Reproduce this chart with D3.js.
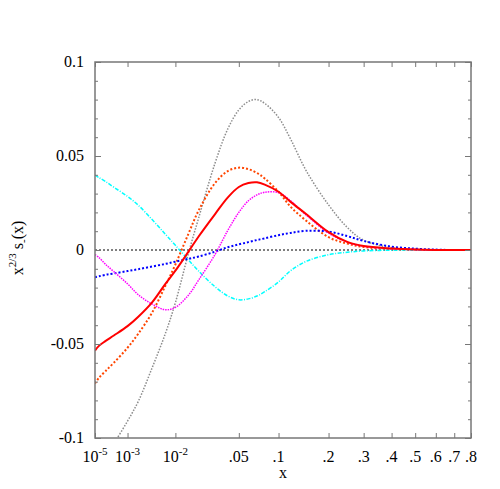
<!DOCTYPE html>
<html lang="en">
<head>
  <meta charset="UTF-8">
  <title>x^(2/3) s_-(x)</title>
  <style>
    body { margin: 0; background: #fff; }
    text { font-family: "Liberation Serif", "DejaVu Serif", serif; font-size: 16px; fill: #000; }
  </style>
</head>
<body>
  <svg id="chart" width="500" height="489"></svg>
<script src="https://cdn.jsdelivr.net/npm/d3@7"></script>
<script>
  // sample points along x
  const xs      = [1e-5, 3e-5, 1e-4, 3e-4, 1e-3, 2e-3, 4e-3, 7e-3, 0.01, 0.015, 0.02, 0.03, 0.04, 0.05, 0.06, 0.07, 0.08, 0.1, 0.12, 0.15, 0.2, 0.25, 0.3, 0.4, 0.5, 0.6, 0.7, 0.8]
  const red     = [-0.0535, -0.051, -0.0485, -0.0455, -0.0405, -0.0355, -0.028, -0.018, -0.011, -0.001, 0.0072, 0.019, 0.028, 0.0335, 0.0356, 0.036, 0.0348, 0.031, 0.0256, 0.019, 0.0095, 0.0043, 0.0021, 0.0008, 0.0002, 0, 0, 0]
  const orange  = [-0.071, -0.068, -0.0645, -0.06, -0.052, -0.0445, -0.0335, -0.019, -0.0077, 0.0085, 0.021, 0.0355, 0.042, 0.0438, 0.043, 0.041, 0.038, 0.031, 0.023, 0.0155, 0.0068, 0.0034, 0.0016, 0.0005, 0.0001, 0, 0, 0]
  const gray    = [-0.118, -0.115, -0.11, -0.103, -0.091, -0.0805, -0.063, -0.0444, -0.028, -0.002, 0.017, 0.046, 0.0645, 0.0745, 0.079, 0.080, 0.078, 0.0705, 0.059, 0.042, 0.024, 0.012, 0.0052, 0.0012, 0.0003, 0, 0, 0]
  const magenta = [-0.0025, -0.004, -0.0075, -0.0115, -0.018, -0.0238, -0.0287, -0.0318, -0.0305, -0.0241, -0.016, -0.0025, 0.0105, 0.020, 0.0262, 0.0293, 0.0307, 0.0305, 0.0262, 0.0185, 0.009, 0.0042, 0.002, 0.0007, 0.0002, 0, 0, 0]
  const blue    = [-0.0145, -0.014, -0.0132, -0.0125, -0.0112, -0.0102, -0.0088, -0.0074, -0.0062, -0.0047, -0.0035, -0.0009, 0.0015, 0.003, 0.0042, 0.0053, 0.0062, 0.0079, 0.0091, 0.0102, 0.0098, 0.0074, 0.0048, 0.0018, 0.0007, 0.0002, 0, 0]
  const cyan    = [0.0398, 0.0385, 0.0365, 0.0334, 0.0285, 0.0238, 0.0163, 0.0084, 0.0025, -0.0052, -0.0112, -0.0195, -0.0245, -0.0265, -0.026, -0.0245, -0.0222, -0.017, -0.011, -0.006, -0.0025, -0.0012, -0.0005, -0.0001, 0, 0, 0, 0]

  const xTicks = [1e-5, 1e-3, 1e-2, 0.05, 0.1, 0.2, 0.3, 0.4, 0.5, 0.6, 0.7, 0.8]
  const xTickLabels = [["10", "-5"], ["10", "-3"], ["10", "-2"], ".05", ".1", ".2", ".3", ".4", ".5", ".6", ".7", ".8"]
  const yTicks = [-0.1, -0.05, 0, 0.05, 0.1]
  const yTickLabels = ["-0.1", "-0.05", "0", "0.05", "0.1"]

  const plotL = 95, plotR = 471, plotT = 62, plotB = 438

  let svg = d3.select("#chart")

  let x = d3.scalePow().exponent(1 / 3).domain([1e-5, 0.8]).range([plotL, plotR])
  let y = d3.scaleLinear().domain([-0.1, 0.1]).range([plotB, plotT])

  svg.append("clipPath").attr("id", "clip")
     .append("rect")
     .attr("x", plotL).attr("y", plotT)
     .attr("width", plotR - plotL).attr("height", plotB - plotT)

  // zero line
  svg.append("line")
     .attr("x1", plotL).attr("x2", plotR)
     .attr("y1", y(0)).attr("y2", y(0))
     .attr("stroke", "#000")
     .attr("stroke-width", 1)
     .attr("stroke-dasharray", "2,2")

  let series = [
    { values: gray,    color: "#8c8c8c", width: 1.5, dash: "1.5,1.5" },
    { values: orange,  color: "#ff4500", width: 2,   dash: "2,2" },
    { values: cyan,    color: "#00ffff", width: 1.5, dash: "4,1.5,1,1.5" },
    { values: blue,    color: "#0000ff", width: 2,   dash: "2,2" },
    { values: magenta, color: "#ff00ff", width: 1.5, dash: "1.5,1" },
    { values: red,     color: "#ff0000", width: 2,   dash: null }
  ]

  let line = d3.line()
               .x(d => x(d[0]))
               .y(d => y(d[1]))
               .curve(d3.curveCatmullRom.alpha(0.5))

  svg.append("g")
     .attr("clip-path", "url(#clip)")
     .selectAll("path")
     .data(series)
     .enter()
     .append("path")
     .attr("d", s => line(xs.map((v, i) => [v, s.values[i]])))
     .attr("fill", "none")
     .attr("stroke", s => s.color)
     .attr("stroke-width", s => s.width)
     .attr("stroke-dasharray", s => s.dash)

  // axes, ticks pointing inwards on all four sides
  let axisColor = "#777"

  function styleAxis(g) {
    g.select(".domain").remove()
    g.selectAll(".tick line").attr("stroke", axisColor).attr("stroke-width", 1)
  }

  svg.append("g")
     .attr("transform", `translate(0,${plotB})`)
     .call(d3.axisBottom(x).tickValues(xTicks).tickSize(-5).tickFormat(""))
     .call(styleAxis)

  svg.append("g")
     .attr("transform", `translate(0,${plotT})`)
     .call(d3.axisTop(x).tickValues(xTicks).tickSize(-5).tickFormat(""))
     .call(styleAxis)

  let yMinor = d3.range(-10, 11).map(d => d / 100)

  svg.append("g")
     .attr("transform", `translate(${plotL},0)`)
     .call(d3.axisLeft(y).tickValues(yMinor).tickSize(-3).tickFormat(""))
     .call(styleAxis)
  svg.append("g")
     .attr("transform", `translate(${plotR},0)`)
     .call(d3.axisRight(y).tickValues(yMinor).tickSize(-3).tickFormat(""))
     .call(styleAxis)
  svg.append("g")
     .attr("transform", `translate(${plotL},0)`)
     .call(d3.axisLeft(y).tickValues(yTicks).tickSize(-6).tickFormat(""))
     .call(styleAxis)
  svg.append("g")
     .attr("transform", `translate(${plotR},0)`)
     .call(d3.axisRight(y).tickValues(yTicks).tickSize(-6).tickFormat(""))
     .call(styleAxis)

  svg.append("rect")
     .attr("x", plotL).attr("y", plotT)
     .attr("width", plotR - plotL).attr("height", plotB - plotT)
     .attr("fill", "none")
     .attr("stroke", axisColor)
     .attr("stroke-width", 1.5)

  // tick labels
  let xl = svg.append("g").selectAll("text")
              .data(xTicks)
              .enter()
              .append("text")
              .attr("x", d => x(d))
              .attr("y", 462)
              .attr("text-anchor", "middle")
  xl.each(function(d, i) {
    let lab = xTickLabels[i]
    let t = d3.select(this)
    if (Array.isArray(lab)) {
      t.append("tspan").text(lab[0])
      t.append("tspan").attr("dy", -7).attr("font-size", "11px").text(lab[1])
    } else {
      t.text(lab)
    }
  })

  svg.append("g").selectAll("text")
     .data(yTicks)
     .enter()
     .append("text")
     .attr("x", 84)
     .attr("y", d => y(d) + 5)
     .attr("text-anchor", "end")
     .text((d, i) => yTickLabels[i])

  svg.append("text")
     .attr("x", (plotL + plotR) / 2)
     .attr("y", 478)
     .attr("text-anchor", "middle")
     .text("x")

  let yl = svg.append("text")
              .attr("transform", "translate(23,248) rotate(-90)")
              .attr("text-anchor", "middle")
  yl.append("tspan").text("x")
  yl.append("tspan").attr("dy", -7).attr("font-size", "11px").text("2/3")
  yl.append("tspan").attr("dy", 7).text(" s")
  yl.append("tspan").attr("dy", 4).attr("font-size", "11px").text("-")
  yl.append("tspan").attr("dy", -4).text("(x)")
</script>
</body>
</html>
